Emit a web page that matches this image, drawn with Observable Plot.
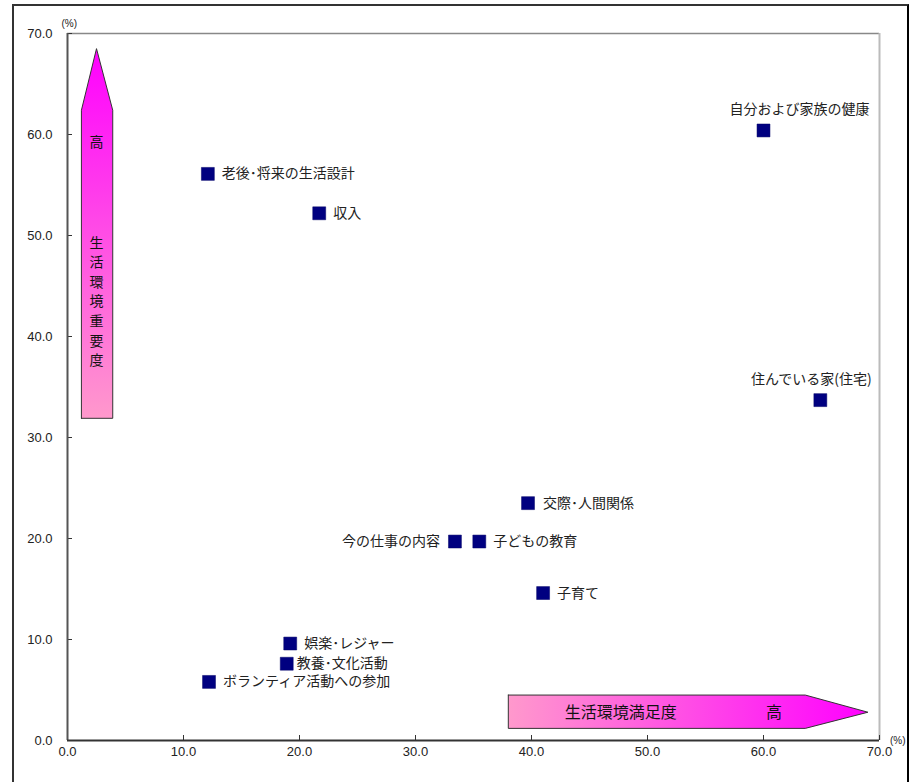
<!DOCTYPE html>
<html>
<head>
<meta charset="utf-8">
<script src="https://cdn.jsdelivr.net/npm/d3@7"></script>
<script src="https://cdn.jsdelivr.net/npm/@observablehq/plot@0.6"></script>
<style>
  html, body { margin: 0; padding: 0; background: #fff; }
  #wrap { position: relative; width: 916px; height: 782px; overflow: hidden; }
  #border { position: absolute; left: 12px; top: 4px; width: 893px; height: 820px; border: 2px solid #333; border-right-color: #000; pointer-events: none; }
</style>
</head>
<body>
<div id="wrap"><div id="border"></div></div>
<script>
// Items (満足度 x, 重要度 y)
const items = ["自分および家族の健康", "住んでいる家(住宅)", "老後･将来の生活設計", "収入", "交際･人間関係", "今の仕事の内容", "子どもの教育", "子育て", "娯楽･レジャー", "教養･文化活動", "ボランティア活動への参加"];
const satisfaction = [60.0, 64.9, 12.1, 21.7, 39.7, 33.4, 35.5, 41.0, 19.2, 18.9, 12.2];
const importance   = [60.4, 33.7, 56.1, 52.2, 23.5, 19.7, 19.7, 14.6, 9.6, 7.6, 5.8];

// label placement (pixel offsets, anchor)
const labelDx     = [36, -9, 14, 14, 15, -15, 14, 14, 14, 10, 14];
const labelDy     = [-21, -21, 0, 0, 0, 0, 0, 0, 0, 0, 0];
const labelAnchor = ["middle", "middle", "start", "start", "start", "end", "start", "start", "start", "start", "start"];

const xTicks = [0, 10, 20, 30, 40, 50, 60, 70];
const yTicks = [0, 10, 20, 30, 40, 50, 60, 70];

// annotation arrows (data units)
const arrowVx = [1.2, 1.2, 2.5, 3.9, 3.9, 1.2];
const arrowVy = [31.9, 62.4, 68.5, 62.4, 31.9, 31.9];
const arrowHx = [38.0, 63.6, 69.0, 63.6, 38.0, 38.0];
const arrowHy = [4.5, 4.5, 2.8, 1.2, 1.2, 4.5];
const vArrowTexts = [
  {t: "高", x: 2.5, y: 59.4},
  {t: "生\n活\n環\n境\n重\n要\n度", x: 2.5, y: 43.6}
];
const hArrowTexts = [
  {t: "生活環境満足度", x: 47.7, y: 2.7},
  {t: "高", x: 60.9, y: 2.7}
];

const points = items.map((name, i) => ({name, x: satisfaction[i], y: importance[i], dx: labelDx[i], dy: labelDy[i], anchor: labelAnchor[i]}));
const vArrow = arrowVx.map((x, i) => ({x, y: arrowVy[i]}));
const hArrow = arrowHx.map((x, i) => ({x, y: arrowHy[i]}));

const cjk = "'Noto Sans CJK JP', 'Noto Sans', sans-serif";
const latin = "'Liberation Sans', Arial, sans-serif";

const defs = () => {
  const d = d3.create("svg:defs");
  const gv = d.append("linearGradient").attr("id", "gradV").attr("x1", 0).attr("y1", 0).attr("x2", 0).attr("y2", 1);
  gv.append("stop").attr("offset", "0%").attr("stop-color", "#ff00ff");
  gv.append("stop").attr("offset", "100%").attr("stop-color", "#ff99cc");
  const gh = d.append("linearGradient").attr("id", "gradH").attr("x1", 0).attr("y1", 0).attr("x2", 1).attr("y2", 0);
  gh.append("stop").attr("offset", "0%").attr("stop-color", "#ff99cc");
  gh.append("stop").attr("offset", "100%").attr("stop-color", "#ff00ff");
  return d.node();
};

const labelMarks = points.map(p => Plot.text([p], {
  x: "x", y: "y", text: "name", dx: p.dx, dy: p.dy, textAnchor: p.anchor,
  fontFamily: cjk, fontSize: 14, fill: "#222"
}));

const plot = Plot.plot({
  width: 916,
  height: 782,
  marginLeft: 67,
  marginRight: 37,
  marginTop: 33,
  marginBottom: 42,
  style: {fontFamily: latin, fontSize: "13px", color: "#222", background: "transparent"},
  x: {domain: [0, 70], label: null, axis: null},
  y: {domain: [0, 70], label: null, axis: null},
  marks: [
    defs,
    Plot.ruleY([70], {stroke: "#888", strokeWidth: 1.5}),
    Plot.ruleX([70], {stroke: "#bbb", strokeWidth: 2}),
    Plot.axisX(xTicks, {tickSize: -5, tickFormat: () => "", stroke: "#333", label: null}),
    Plot.axisY(yTicks, {tickSize: -5, tickFormat: () => "", stroke: "#333", label: null}),
    Plot.text(xTicks, {x: d => d, frameAnchor: "bottom", dy: 15, text: d => d.toFixed(1), fontSize: 13, fontFamily: latin, fill: "#222"}),
    Plot.text(yTicks, {y: d => d, frameAnchor: "left", dx: -15, textAnchor: "end", text: d => d.toFixed(1), fontSize: 13, fontFamily: latin, fill: "#222"}),
    Plot.ruleX([0], {stroke: "#555", strokeWidth: 2}),
    Plot.ruleY([0], {stroke: "#333", strokeWidth: 2}),
    Plot.text(["(%)"], {frameAnchor: "top-left", dx: -6, dy: -14, fontSize: 10, fill: "#222", fontFamily: latin}),
    Plot.text(["(%)"], {frameAnchor: "bottom-right", dx: 26, dy: 3, fontSize: 10, fill: "#222", fontFamily: latin}),
    Plot.line(vArrow, {x: "x", y: "y", fill: "url(#gradV)", stroke: "#333", strokeWidth: 1, curve: "linear"}),
    Plot.line(hArrow, {x: "x", y: "y", fill: "url(#gradH)", stroke: "#333", strokeWidth: 1, curve: "linear"}),
    Plot.text(vArrowTexts, {x: "x", y: "y", text: "t", fontFamily: cjk, fontSize: 14, lineHeight: 1.4, fill: "#111"}),
    Plot.text(hArrowTexts, {x: "x", y: "y", text: "t", fontFamily: cjk, fontSize: 16, fill: "#111"}),
    Plot.dot(points, {x: "x", y: "y", symbol: "square", r: 7.3, fill: "#000080", stroke: "#000066", strokeWidth: 0.5}),
    ...labelMarks
  ]
});
document.getElementById("wrap").prepend(plot);
</script>
</body>
</html>
